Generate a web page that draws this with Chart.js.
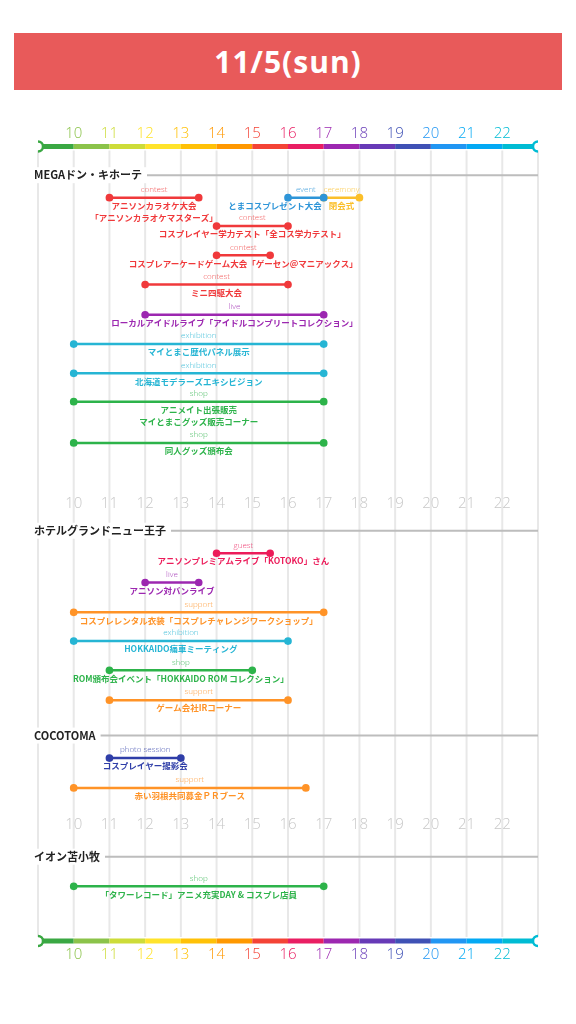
<!DOCTYPE html>
<html><head><meta charset="utf-8">
<script src="https://cdn.jsdelivr.net/npm/chart.js@4"></script>
<style>
html,body{margin:0;padding:0;background:#fff;}
#wrap{position:relative;width:576px;height:1024px;}
#title{position:absolute;left:14px;top:33px;width:548px;height:57px;background:#e85a5a;color:#fff;font:700 30px "Open Sans",sans-serif;text-align:center;line-height:57px;letter-spacing:1px;}
</style></head><body>
<div id="wrap"><canvas id="c"></canvas><div id="title">11/5(sun)</div></div>
<script>
const hours=[10,11,12,13,14,15,16,17,18,19,20,21,22];
const hourColors=['#3aa843','#8bc34a','#cddc39','#ffe32b','#ffc107','#ff9800','#f44336','#e91e63','#9c27b0','#673ab7','#3f51b5','#2196f3','#03a9f4','#00bcd4'];
const venues=['MEGAドン・キホーテ','ホテルグランドニュー王子','COCOTOMA','イオン苫小牧'];
const venueRows=[5.73,17.88,24.88,29.02];
const grayTickRows=[16.97,27.92];
const catColors={contest:'#f0393b',event:'#2e95d8',ceremony:'#fbbf2a',live:'#9c27b0',exhibition:'#26b5d4',shop:'#2db34a',guest:'#ec1c5a',support:'#ff9327','photo session':'#2f3ea8'};
const evStart=[11,16,17,14,14,12,12,10,10,10,10, 14,12,10,10,11,11, 11,10, 10];
const evEnd  =[13.5,17,18,16,15.5,16,17,17,17,17,17, 15.5,13.5,17,16,15,16, 13,16.5, 17];
const evRow  =[6.5,6.5,6.5,7.47,8.47,9.47,10.5,11.5,12.5,13.47,14.88, 18.65,19.65,20.67,21.65,22.65,23.67, 25.65,26.67, 30.03];
const evCat  =['contest','event','ceremony','contest','contest','contest','live','exhibition','exhibition','shop','shop',
 'guest','live','support','exhibition','shop','support','photo session','support','shop'];
const evName =['アニソンカラオケ大会\n「アニソンカラオケマスターズ」','とまコスプレゼント大会','閉会式','コスプレイヤー学力テスト「全コス学力テスト」','コスプレアーケードゲーム大会「ゲーセン＠マニアックス」','ミニ四駆大会','ローカルアイドルライブ「アイドルコンプリートコレクション」','マイとまこ歴代パネル展示','北海道モデラーズエキシビジョン','アニメイト出張販売\nマイとまこグッズ販売コーナー','同人グッズ頒布会',
 'アニソンプレミアムライブ「KOTOKO」さん','アニソン対バンライブ','コスプレレンタル衣装「コスプレチャレンジワークショップ」','HOKKAIDO痛車ミーティング','ROM頒布会イベント「HOKKAIDO ROM コレクション」','ゲーム会社IRコーナー',
 'コスプレイヤー撮影会','赤い羽根共同募金ＰＲブース','「タワーレコード」アニメ充実DAY & コスプレ店員'];
const evAlign=['c','r','c','c','c','c','c','c','c','c','c','c','c','c','c','c','c','c','c','c'];
const rainbowRows=[4.75,31.9];
const colorTickRows=[4.33,32.38];

const datasets=[];
evStart.forEach((s,i)=>{const col=catColors[evCat[i]];
 datasets.push({type:'line',data:[{x:s,y:evRow[i]},{x:evEnd[i],y:evRow[i]}],borderColor:col,backgroundColor:col,pointBackgroundColor:col,pointBorderColor:col,borderWidth:2.5,pointRadius:2.6,order:2});});
rainbowRows.forEach(r=>{
 const pts=[9].concat(hours,[23]).map(h=>({x:h,y:r}));
 datasets.push({type:'line',data:pts,borderWidth:5,pointRadius:0,order:3,borderCapStyle:'butt',
  segment:{borderColor:ctx=>hourColors[Math.round(ctx.p0.parsed.x)-9]}});
 datasets.push({type:'line',data:[{x:9,y:r},{x:23,y:r}],showLine:false,pointRadius:5,pointBorderWidth:2.5,pointBackgroundColor:'#fff',pointBorderColor:[hourColors[0],hourColors[13]],order:1});
});

const deco={id:'deco',
 beforeDatasetsDraw(ch){const c=ch.ctx,x=ch.scales.x,y=ch.scales.y;c.save();
  c.strokeStyle='#e8e8e8';c.lineWidth=2;
  for(let h=9;h<=23;h++){c.beginPath();c.moveTo(x.getPixelForValue(h),y.getPixelForValue(rainbowRows[0])+4);c.lineTo(x.getPixelForValue(h),y.getPixelForValue(rainbowRows[1])-4);c.stroke();}
  c.font='bold 11px "Noto Sans CJK JP",sans-serif';c.textBaseline='middle';
  venues.forEach((v,i)=>{const py=y.getPixelForValue(venueRows[i]);const w=c.measureText(v).width;
   c.fillStyle='#fff';c.fillRect(30,py-8,w+10,16);
   c.fillStyle='#222';c.textAlign='left';c.fillText(v,34,py);
   c.strokeStyle='#bdbdbd';c.lineWidth=2;c.beginPath();c.moveTo(34+w+5,py);c.lineTo(x.getPixelForValue(23),py);c.stroke();});
  c.restore();},
 afterDatasetsDraw(ch){const c=ch.ctx,x=ch.scales.x,y=ch.scales.y;c.save();c.textBaseline='middle';c.textAlign='center';
  c.font='300 15px "Open Sans",sans-serif';
  colorTickRows.forEach(r=>hours.forEach(h=>{c.fillStyle=hourColors[h-9];c.fillText(String(h),x.getPixelForValue(h),y.getPixelForValue(r));}));
  c.fillStyle='#c8c8c8';
  grayTickRows.forEach(r=>hours.forEach(h=>c.fillText(String(h),x.getPixelForValue(h),y.getPixelForValue(r))));
  evStart.forEach((s,i)=>{const col=catColors[evCat[i]];const py=y.getPixelForValue(evRow[i]);
   const cx=x.getPixelForValue((s+evEnd[i])/2);
   c.globalAlpha=0.85;c.font='300 8px "Open Sans",sans-serif';c.fillStyle=col;c.textAlign='center';c.fillText(evCat[i],cx,py-8);c.globalAlpha=1;
   c.font='bold 8.5px "Noto Sans CJK JP",sans-serif';
   evName[i].split('\n').forEach((ln,k)=>{
    if(evAlign[i]==='r'){c.textAlign='right';c.fillText(ln,x.getPixelForValue(evEnd[i])-2,py+8+k*12.5);}
    else{c.textAlign='center';c.fillText(ln,cx,py+8+k*12.5);}});
  });
  c.restore();}
};

new Chart(document.getElementById('c'),{type:'line',data:{datasets},
 options:{responsive:true,maintainAspectRatio:false,animation:false,
  layout:{padding:{left:38,right:38,top:0,bottom:0}},
  plugins:{legend:{display:false},tooltip:{enabled:false}},
  scales:{x:{type:'linear',min:9,max:23,display:false},y:{type:'linear',min:0,max:34.48,reverse:true,display:false}}},
 plugins:[deco]});
</script></body></html>
